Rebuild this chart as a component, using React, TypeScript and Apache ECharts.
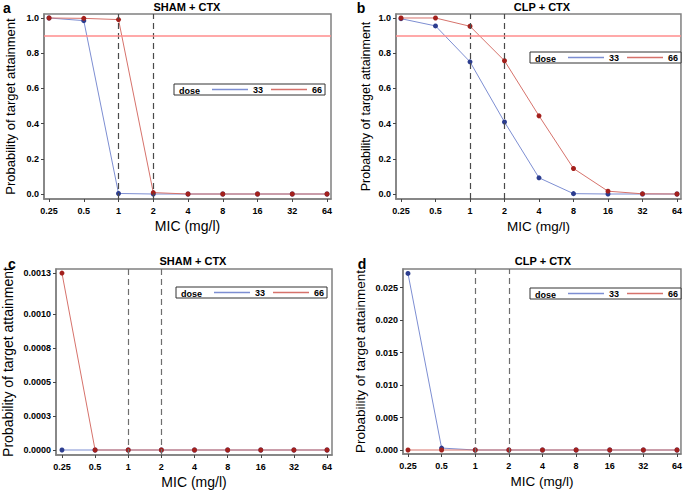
import React, { useEffect, useRef } from 'react';
import * as echarts from 'echarts';

// ---------- data ----------
const MIC_LABELS = ['0.25', '0.5', '1', '2', '4', '8', '16', '32', '64'];
const MIC_INDEX = MIC_LABELS.map((_, i) => i);
const BREAKPOINTS = ['1', '2'];
const TARGET = 0.9;
const DOSES = ['33', '66'];

const A_33 = [1.0, 0.985, 0.003, 0.0, 0.0, 0.0, 0.0, 0.0, 0.0];
const A_66 = [1.0, 0.998, 0.991, 0.008, 0.0, 0.0, 0.0, 0.0, 0.0];
const B_33 = [0.996, 0.955, 0.751, 0.409, 0.092, 0.002, 0.0, 0.0, 0.0];
const B_66 = [1.0, 1.0, 0.953, 0.757, 0.444, 0.145, 0.016, 0.001, 0.0];
const C_33 = [0.0, 0.0, 0.0, 0.0, 0.0, 0.0, 0.0, 0.0, 0.0];
const C_66 = [0.0013, 0.0, 0.0, 0.0, 0.0, 0.0, 0.0, 0.0, 0.0];
const D_33 = [0.0272, 0.0003, 0.0, 0.0, 0.0, 0.0, 0.0, 0.0, 0.0];
const D_66 = [0.0, 0.0, 0.0, 0.0, 0.0, 0.0, 0.0, 0.0, 0.0];

const AB_TICKS = [0, 0.2, 0.4, 0.6, 0.8, 1.0];
const AB_TICK_LABELS = ['0.0', '0.2', '0.4', '0.6', '0.8', '1.0'];
const C_TICKS = [0, 0.00025, 0.0005, 0.00075, 0.001, 0.0013];
const C_TICK_LABELS = ['0.0000', '0.0003', '0.0005', '0.0008', '0.0010', '0.0013'];
const D_TICKS = [0, 0.005, 0.01, 0.015, 0.02, 0.025];
const D_TICK_LABELS = ['0.000', '0.005', '0.010', '0.015', '0.020', '0.025'];

const TITLES = ['SHAM + CTX', 'CLP + CTX', 'SHAM + CTX', 'CLP + CTX'];
const LETTERS = ['a', 'b', 'c', 'd'];
const Y_NAME = 'Probability of target attainment';
const X_NAME = 'MIC (mg/l)';

// ---------- style ----------
const FONT = "'Liberation Sans', Arial, sans-serif";
const BLUE_LINE = '#7d8ed2';
const BLUE_DOT = '#2c3d8f';
const RED_LINE = '#d6726b';
const RED_DOT = '#a3201c';
const FRAME = '#808080';

type Panel = {
  grid: { left: number; top: number; width: number; height: number };
  xMin: number; xMax: number;
  yMin: number; yMax: number;
  ticks: number[]; tickLabels: string[];
  s33: number[]; s66: number[];
  target: boolean;
  dashColor: string;
  legend: { left: number; top: number };
  title: [number, number];
  letter: [number, number];
  yGap: number; yNameSize: number; xNameSize: number;
};

const PANELS: Panel[] = [
  {
    grid: { left: 44, top: 14, width: 287, height: 185 },
    xMin: -0.145, xMax: 8.115, yMin: -0.0284, yMax: 1.0227,
    ticks: AB_TICKS, tickLabels: AB_TICK_LABELS, s33: A_33, s66: A_66, target: true,
    dashColor: '#4a4a4a',
    legend: { left: 174, top: 84 }, title: [187, 7], letter: [7, 7.5],
    yGap: 27, yNameSize: 13, xNameSize: 14,
  },
  {
    grid: { left: 396, top: 14, width: 287, height: 185 },
    xMin: -0.145, xMax: 8.115, yMin: -0.0284, yMax: 1.0227,
    ticks: AB_TICKS, tickLabels: AB_TICK_LABELS, s33: B_33, s66: B_66, target: true,
    dashColor: '#4a4a4a',
    legend: { left: 530, top: 52 }, title: [542, 7], letter: [361, 7.5],
    yGap: 24, yNameSize: 12.5, xNameSize: 13.5,
  },
  {
    grid: { left: 54, top: 269, width: 278, height: 186 },
    xMin: -0.18, xMax: 8.15, yMin: -0.0000367, yMax: 0.00133,
    ticks: C_TICKS, tickLabels: C_TICK_LABELS, s33: C_33, s66: C_66, target: false,
    dashColor: '#6e6e6e',
    legend: { left: 176, top: 287 }, title: [193, 261], letter: [12, 264],
    yGap: 41, yNameSize: 14, xNameSize: 14,
  },
  {
    grid: { left: 403, top: 269, width: 280, height: 185 },
    xMin: -0.148, xMax: 8.118, yMin: -0.000616, yMax: 0.02788,
    ticks: D_TICKS, tickLabels: D_TICK_LABELS, s33: D_33, s66: D_66, target: false,
    dashColor: '#6e6e6e',
    legend: { left: 530, top: 288 }, title: [543, 261], letter: [362, 264],
    yGap: 36, yNameSize: 13.5, xNameSize: 13.5,
  },
];

function buildOption() {
  const grid: any[] = [];
  const xAxis: any[] = [];
  const yAxis: any[] = [];
  const series: any[] = [];
  const legend: any[] = [];
  const graphic: any[] = [];

  PANELS.forEach((p, i) => {
    grid.push({
      ...p.grid,
      show: true,
      borderColor: FRAME,
      borderWidth: 1.5,
      backgroundColor: '#fff',
    });
    xAxis.push({
      type: 'value',
      gridIndex: i,
      min: p.xMin,
      max: p.xMax,
      name: X_NAME,
      nameLocation: 'middle',
      nameGap: 20,
      nameTextStyle: { fontFamily: FONT, fontSize: p.xNameSize, color: '#000' },
      axisLine: { show: true, onZero: false, lineStyle: { color: FRAME, width: 1.5 } },
      axisTick: { show: true, length: 3, customValues: MIC_INDEX, lineStyle: { color: '#444' } },
      axisLabel: {
        customValues: MIC_INDEX,
        margin: 7,
        fontFamily: FONT,
        fontSize: 9,
        fontWeight: 'bold',
        color: '#000',
        formatter: (v: number) => MIC_LABELS[Math.round(v)] ?? '',
      },
      splitLine: { show: false },
    });
    yAxis.push({
      type: 'value',
      gridIndex: i,
      min: p.yMin,
      max: p.yMax,
      name: Y_NAME,
      nameLocation: 'middle',
      nameGap: p.yGap,
      nameTextStyle: { fontFamily: FONT, fontSize: p.yNameSize, color: '#000' },
      axisLine: { show: true, onZero: false, lineStyle: { color: FRAME, width: 1.5 } },
      axisTick: { show: true, length: 3, customValues: p.ticks, lineStyle: { color: '#444' } },
      axisLabel: {
        customValues: p.ticks,
        margin: 5,
        fontFamily: FONT,
        fontSize: 9,
        fontWeight: 'bold',
        color: '#000',
        formatter: (v: number) => {
          const k = p.ticks.findIndex((t) => Math.abs(t - v) < 1e-12);
          return k >= 0 ? p.tickLabels[k] : '';
        },
      },
      splitLine: { show: false },
    });

    const markData: any[] = BREAKPOINTS.map((b) => ({
      xAxis: MIC_LABELS.indexOf(b),
      lineStyle: { color: p.dashColor, type: [6, 4], width: 1.2 },
    }));
    if (p.target) {
      markData.push({ yAxis: TARGET, lineStyle: { color: '#ff8c8c', type: 'solid', width: 1.5 } });
    }

    series.push({
      type: 'line',
      name: DOSES[0],
      xAxisIndex: i,
      yAxisIndex: i,
      data: p.s33.map((v, k) => [MIC_INDEX[k], v]),
      symbol: 'circle',
      symbolSize: 5,
      lineStyle: { color: BLUE_LINE, width: 1 },
      itemStyle: { color: BLUE_DOT },
      markLine: {
        silent: true,
        symbol: ['none', 'none'],
        label: { show: false },
        emphasis: { disabled: true },
        data: markData,
      },
      z: 2,
    });
    series.push({
      type: 'line',
      name: DOSES[1],
      xAxisIndex: i,
      yAxisIndex: i,
      data: p.s66.map((v, k) => [MIC_INDEX[k], v]),
      symbol: 'circle',
      symbolSize: 5,
      lineStyle: { color: RED_LINE, width: 1 },
      itemStyle: { color: RED_DOT },
      z: 3,
    });

    legend.push({
      left: p.legend.left,
      top: p.legend.top,
      orient: 'horizontal',
      backgroundColor: '#fff',
      borderColor: '#333',
      borderWidth: 1,
      borderRadius: 0,
      padding: [1, 3, 1, 38],
      itemGap: 8,
      itemWidth: 36,
      itemHeight: 1.5,
      selectedMode: false,
      textStyle: { fontFamily: FONT, fontSize: 9, fontWeight: 'bold', color: '#000', padding: [0, 0, 0, 0] },
      data: [
        { name: DOSES[0], icon: 'rect', itemStyle: { color: BLUE_LINE } },
        { name: DOSES[1], icon: 'rect', itemStyle: { color: RED_LINE } },
      ],
      z: 10,
    });

    graphic.push({
      type: 'text',
      x: p.legend.left + 5,
      y: p.legend.top + 7,
      z: 20,
      style: {
        text: 'dose',
        fontFamily: FONT,
        fontSize: 9,
        fontWeight: 'bold',
        fill: '#000',
        align: 'left',
        verticalAlign: 'middle',
      },
    });
    graphic.push({
      type: 'text',
      x: p.title[0],
      y: p.title[1],
      style: {
        text: TITLES[i],
        fontFamily: FONT,
        fontSize: 11,
        fontWeight: 'bold',
        fill: '#000',
        align: 'center',
        verticalAlign: 'middle',
      },
    });
    graphic.push({
      type: 'text',
      x: p.letter[0],
      y: p.letter[1],
      style: {
        text: LETTERS[i],
        fontFamily: FONT,
        fontSize: 14,
        fontWeight: 'bold',
        fill: '#000',
        align: 'center',
        verticalAlign: 'middle',
      },
    });
  });

  return {
    animation: false,
    backgroundColor: '#fff',
    grid,
    xAxis,
    yAxis,
    series,
    legend,
    graphic,
  };
}

export default function App() {
  const ref = useRef<HTMLDivElement>(null);
  useEffect(() => {
    if (!ref.current) return;
    const chart = echarts.init(ref.current, undefined, { renderer: 'svg' });
    chart.setOption(buildOption() as any);
    return () => chart.dispose();
  }, []);
  return (
    <div
      ref={ref}
      style={{ position: 'fixed', left: 0, top: 0, width: 685, height: 491, background: '#fff' }}
    />
  );
}
